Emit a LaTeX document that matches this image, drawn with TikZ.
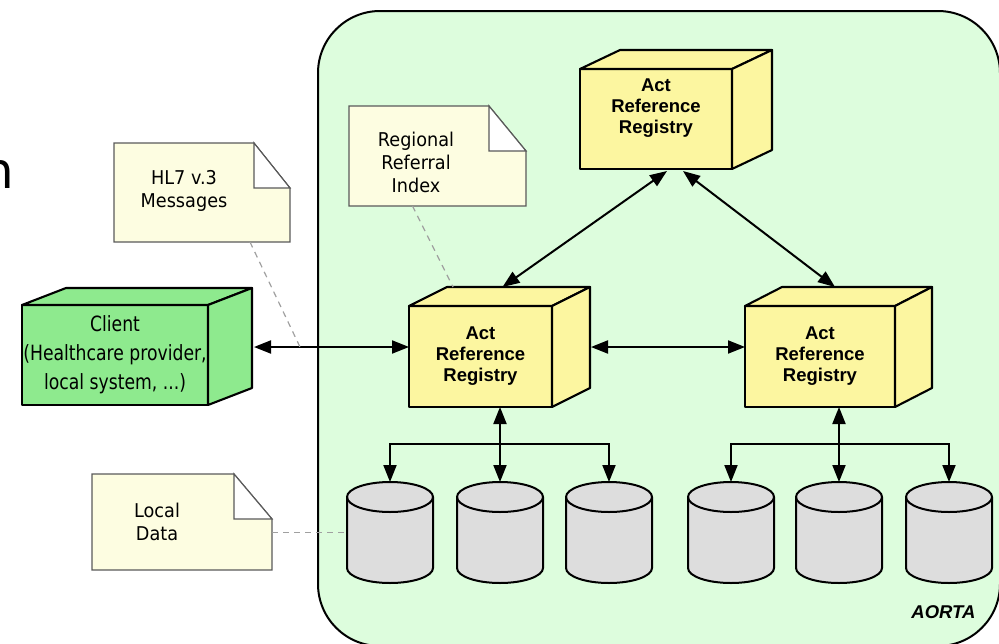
\documentclass[tikz,border=0pt]{standalone}
\usepackage{fontspec}
\setmainfont{DejaVu Sans}
\newfontfamily\notefont[FakeStretch=0.93]{DejaVu Sans}
\newfontfamily\clientfont[FakeStretch=0.82]{DejaVu Sans}
\newfontfamily\arialfont{Liberation Sans}
\usetikzlibrary{calc,arrows.meta}
\definecolor{aortabg}{RGB}{221,253,221}
\definecolor{cubeyellow}{RGB}{252,246,160}
\definecolor{clientgreen}{RGB}{142,234,142}
\definecolor{noteyellow}{RGB}{253,253,225}
\definecolor{cylgray}{RGB}{221,221,221}
\definecolor{noteborder}{RGB}{90,90,90}
\definecolor{dashgray}{RGB}{160,160,160}
\newcommand\dbcyl[2]{%
  \node[cylbox] (#1) at (#2,532.5) {};
  \draw[cylline, fill=cylgray] ($(#1.north west)+(0,15)$) -- ($(#1.south west)+(0,-15)$)
     arc[start angle=180,end angle=360,x radius=43pt,y radius=15pt]
     -- ($(#1.north east)+(0,15)$)
     arc[start angle=0,end angle=180,x radius=43pt,y radius=15pt] -- cycle;
  \draw[cylline] ($(#1.north west)+(0,15)$) arc[start angle=180,end angle=360,x radius=43pt,y radius=15pt];
}
\newcommand\notepath[3]{%
  \draw[noteline, fill=noteyellow] (#1.south west) -- (#1.north west) -- ($(#1.north east)+(-#2,0)$)
     -- ($(#1.north east)+(0,#3)$) -- (#1.south east) -- cycle;
  \draw[noteline, fill=white] ($(#1.north east)+(-#2,0)$) -- ($(#1.north east)+(-#2,#3)$)
     -- ($(#1.north east)+(0,#3)$) -- cycle;
}
\newcommand\cubesides[4]{% name, dx, dy, colour
  \draw[cubeline, fill=#4] (#1.north west) -- ++(#2,#3) -- ($(#1.north east)+(#2,#3)$) -- (#1.north east) -- cycle;
  \draw[cubeline, fill=#4] (#1.north east) -- ++(#2,#3) -- ($(#1.south east)+(#2,#3)$) -- (#1.south east) -- cycle;
}
\begin{document}
\begin{tikzpicture}[x=1pt,y=-1pt,
  cubeline/.style={line width=2.1pt, draw=black, line join=round},
  cubefront/.style={cubeline, rectangle, inner sep=0pt, outer sep=0pt, align=center},
  arrfont/.style={font=\arialfont\bfseries\fontsize{18.5}{21}\selectfont},
  cylbox/.style={rectangle, inner sep=0pt, outer sep=0pt, minimum width=86pt, minimum height=101pt},
  cylline/.style={line width=2pt, draw=black},
  notebox/.style={rectangle, inner sep=0pt, outer sep=0pt},
  noteline/.style={line width=1.2pt, draw=noteborder, line join=miter},
  notetext/.style={align=center, font=\notefont\fontsize{19}{23}\selectfont},
  conn/.style={line width=2pt, {Triangle[length=17pt,width=13pt]}-{Triangle[length=17pt,width=13pt]}},
  toarrow/.style={line width=2pt, -{Triangle[length=17pt,width=13pt]}},
  dashline/.style={line width=1.2pt, draw=dashgray, dash pattern=on 6pt off 5pt}
]
\useasboundingbox (0,0) rectangle (999,643);
% AORTA frame
\node[rectangle, draw=black, line width=2pt, fill=aortabg, rounded corners=62pt,
      minimum width=682pt, minimum height=635pt, inner sep=0pt] (aorta) at (659,328.5) {};
\node[anchor=east, font=\arialfont\bfseries\itshape\fontsize{18.5}{20}\selectfont] (aortalbl) at (979,612) {AORTA};
% cut-off text at the left
\node[anchor=base east, inner sep=0pt, font=\fontsize{50}{50}\selectfont] (ncut) at (14,188) {n};
% notes
\node[notebox, minimum width=176pt, minimum height=99pt] (hl7) at (202,192.5) {};
\notepath{hl7}{36}{45}
\node[notetext] (hl7txt) at (184,191) {HL7 v.3\\Messages};
\node[notebox, minimum width=177pt, minimum height=100pt] (rri) at (437.5,156) {};
\notepath{rri}{37}{45}
\node[notetext] (rritxt) at (416,162.5) {Regional\\Referral\\Index};
\node[notebox, minimum width=180pt, minimum height=96pt] (ld) at (182,522) {};
\notepath{ld}{38}{45}
\node[notetext] (ldtxt) at (157,521.5) {Local\\Data};
% client cube
\node[cubefront, fill=clientgreen, minimum width=186pt, minimum height=100pt,
      font=\clientfont\fontsize{21}{29}\selectfont] (client) at (115,355) {Client\\(Healthcare provider,\\local system, ...)};
\cubesides{client}{44}{-17}{clientgreen}
% act reference registries
\node[cubefront, fill=cubeyellow, minimum width=152pt, minimum height=100pt] (top) at (656,119) {};
\cubesides{top}{40}{-19}{cubeyellow}
\node[arrfont, align=center] (toptxt) at (656,108.5) {Act\\Reference\\Registry};
\node[cubefront, fill=cubeyellow, minimum width=143pt, minimum height=101pt, arrfont] (arrL) at (480.5,356.5) {Act\\Reference\\Registry};
\cubesides{arrL}{38}{-19}{cubeyellow}
\node[cubefront, fill=cubeyellow, minimum width=150pt, minimum height=101pt, arrfont] (arrR) at (820,356.5) {Act\\Reference\\Registry};
\cubesides{arrR}{37}{-19}{cubeyellow}
% databases
\dbcyl{cA}{390}
\dbcyl{cB}{500}
\dbcyl{cC}{609}
\dbcyl{cD}{731}
\dbcyl{cE}{839}
\dbcyl{cF}{949}
% connector anchor points on the cube side faces
\coordinate (clientside) at (254,347);
\coordinate (arrLside) at (591,347);
\coordinate (hl7end) at (300,347);
\coordinate (lbus) at (500,444);
\coordinate (rbus) at (839,444);
% connectors
\draw[conn] (clientside) -- (arrL.west |- clientside);
\draw[conn] (arrLside) -- (arrR.west |- arrLside);
\draw[conn] ($(top.south)+(11,2)$) -- ($(arrL.north)+(22,-19)$);
\draw[conn] ($(top.south)+(27,2)$) -- ($(arrR.north)+(15,-19)$);
\draw[conn] (cB.north) -- (cB.north |- arrL.south);
\draw[toarrow] (lbus) -| (cA.north);
\draw[toarrow] (lbus) -| (cC.north);
\draw[conn] (cE.north) -- (cE.north |- arrR.south);
\draw[toarrow] (rbus) -| (cD.north);
\draw[toarrow] (rbus) -| (cF.north);
% note links
\draw[dashline] ($(hl7.south west)+(136,0)$) -- (hl7end);
\draw[dashline] ($(rri.south)+(-25,0)$) -- ($(arrL.north west)+(44,-19)$);
\draw[dashline] (cA.west -| ld.east) -- (cA.west);
\end{tikzpicture}
\end{document}
